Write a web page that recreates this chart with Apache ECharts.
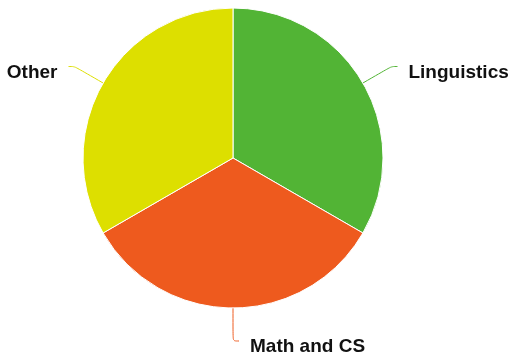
<!DOCTYPE html>
<html><head><meta charset="utf-8">
<script src="https://cdn.jsdelivr.net/npm/echarts@6/dist/echarts.min.js"></script>
<style>html,body{margin:0;padding:0;background:#fff}#c{width:511px;height:355px}</style>
</head><body><div id="c"></div>
<script>
const categories = ["Linguistics", "Math and CS", "Other"];
const values = [1, 1, 1];
const colors = ["#52b435", "#ee5a1e", "#dddf00"];
const chart = echarts.init(document.getElementById('c'), null, {renderer: 'canvas'});
chart.setOption({
  animation: false,
  series: [{
    type: 'pie',
    center: [233, 158],
    radius: [0, 150],
    startAngle: 90,
    clockwise: true,
    itemStyle: {borderColor: '#fff', borderWidth: 1},
    label: {show: true, position: 'outside', color: '#111', fontWeight: 'bold', fontSize: 19, fontFamily: 'Liberation Sans, Arial, sans-serif', distanceToLabelLine: 11, overflow: 'none'},
    labelLayout: {dy: 6},
    labelLine: {show: true, length: 33, length2: 6, smooth: true, lineStyle: {width: 1}},
    data: categories.map((c, i) => ({name: c, value: values[i], itemStyle: {color: colors[i]}}))
  }]
});
</script></body></html>
